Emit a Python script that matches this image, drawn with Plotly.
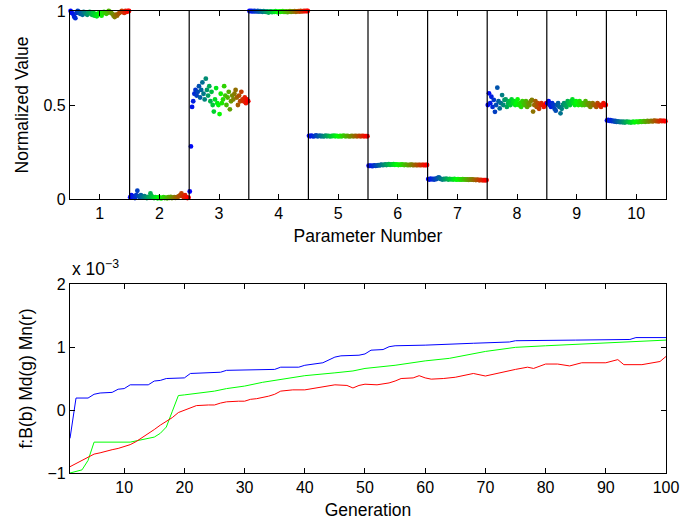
import plotly.graph_objects as go
from plotly.subplots import make_subplots

# ---------------- data: top panel (normalized parameter values, ordered by generation) -------------
param_numbers = [1, 2, 3, 4, 5, 6, 7, 8, 9, 10]

p1 = [1.0, 0.99, 0.985, 0.97, 0.962, 0.99, 1.0, 0.995, 0.985, 0.99,
      0.98, 0.995, 0.99, 0.985, 0.98, 0.99, 0.995, 0.985, 0.98, 0.99,
      0.975, 0.985, 0.972, 0.98, 0.99, 0.985, 0.975, 0.99, 0.995, 0.99,
      0.985, 0.99, 1.0, 0.995, 0.99, 0.985, 0.975, 0.968, 0.98, 0.975,
      0.985, 0.99, 0.995, 1.0, 0.995, 0.99, 1.0, 0.995, 1.0, 1.0]
p2 = [0.01, 0.02, 0.015, 0.01, 0.005, 0.02, 0.044, 0.015, 0.01, 0.02,
      0.012, 0.008, 0.015, 0.01, 0.005, 0.012, 0.008, 0.03, 0.015, 0.01,
      0.005, 0.01, 0.008, 0.004, 0.01, 0.006, 0.003, 0.008, 0.01, 0.005,
      0.008, 0.004, 0.01, 0.006, 0.012, 0.005, 0.008, 0.01, 0.006, 0.01,
      0.012, 0.015, 0.02, 0.03, 0.015, 0.01, 0.02, 0.01, 0.005, 0.008]
p3 = [0.04, 0.28, 0.49, 0.52, 0.56, 0.58, 0.55, 0.57, 0.60, 0.54,
      0.58, 0.62, 0.56, 0.53, 0.64, 0.58, 0.55, 0.60, 0.52, 0.57,
      0.50, 0.465, 0.53, 0.59, 0.51, 0.50, 0.452, 0.56, 0.51, 0.53,
      0.60, 0.55, 0.50, 0.54, 0.57, 0.477, 0.52, 0.55, 0.53, 0.56,
      0.58, 0.54, 0.50, 0.55, 0.52, 0.57, 0.53, 0.52, 0.54, 0.51,
      0.53, 0.52]
p4 = [1.0, 0.999, 1.0, 0.998, 1.0, 0.999, 0.998, 1.0, 0.997, 0.999,
      0.998, 0.996, 0.999, 0.997, 0.995, 0.998, 0.992, 0.996, 0.998, 0.994,
      0.997, 0.995, 0.999, 0.996, 0.993, 0.998, 0.996, 0.997, 0.999, 0.995,
      0.996, 0.998, 0.994, 0.997, 0.999, 0.996, 0.998, 0.997, 0.999, 0.996,
      0.998, 0.999, 0.997, 1.0, 0.998, 0.999, 1.0, 0.999, 1.0, 1.0]
p5 = [0.336, 0.334, 0.337, 0.335, 0.333, 0.336, 0.338, 0.334, 0.335, 0.337,
      0.334, 0.336, 0.333, 0.335, 0.337, 0.334, 0.336, 0.335, 0.333, 0.336,
      0.335, 0.337, 0.334, 0.336, 0.335, 0.333, 0.336, 0.334, 0.335, 0.337,
      0.335, 0.334, 0.336, 0.335, 0.333, 0.335, 0.336, 0.334, 0.335, 0.336,
      0.334, 0.335, 0.336, 0.334, 0.335, 0.336, 0.334, 0.335, 0.335, 0.334]
p6 = [0.177, 0.176, 0.178, 0.175, 0.177, 0.179, 0.176, 0.178, 0.180, 0.179,
      0.181, 0.183, 0.180, 0.182, 0.184, 0.181, 0.183, 0.185, 0.182, 0.184,
      0.183, 0.185, 0.182, 0.184, 0.183, 0.181, 0.183, 0.182, 0.184, 0.182,
      0.181, 0.183, 0.182, 0.180, 0.182, 0.181, 0.183, 0.181, 0.180, 0.182,
      0.181, 0.180, 0.182, 0.181, 0.180, 0.182, 0.181, 0.180, 0.181, 0.181]
p7 = [0.106, 0.104, 0.108, 0.105, 0.107, 0.103, 0.109, 0.106, 0.112, 0.115,
      0.108, 0.106, 0.104, 0.107, 0.105, 0.108, 0.106, 0.104, 0.107, 0.105,
      0.106, 0.104, 0.107, 0.105, 0.103, 0.106, 0.104, 0.105, 0.103, 0.106,
      0.104, 0.105, 0.103, 0.104, 0.102, 0.105, 0.103, 0.104, 0.102, 0.103,
      0.101, 0.103, 0.102, 0.100, 0.102, 0.101, 0.100, 0.101, 0.100, 0.101]
p8 = [0.50, 0.562, 0.51, 0.544, 0.49, 0.527, 0.464, 0.50, 0.592, 0.52,
      0.482, 0.51, 0.553, 0.50, 0.527, 0.53, 0.49, 0.51, 0.52, 0.50,
      0.53, 0.51, 0.52, 0.50, 0.51, 0.53, 0.50, 0.51, 0.49, 0.52,
      0.51, 0.50, 0.52, 0.49, 0.51, 0.50, 0.52, 0.527, 0.465, 0.50,
      0.52, 0.49, 0.51, 0.48, 0.50, 0.51, 0.50, 0.49, 0.50, 0.51]
p9 = [0.51, 0.52, 0.50, 0.49, 0.51, 0.50, 0.48, 0.47, 0.50, 0.51,
      0.49, 0.456, 0.48, 0.50, 0.51, 0.50, 0.49, 0.52, 0.51, 0.50,
      0.52, 0.53, 0.51, 0.50, 0.52, 0.51, 0.50, 0.52, 0.51, 0.50,
      0.51, 0.50, 0.52, 0.51, 0.50, 0.51, 0.49, 0.50, 0.51, 0.50,
      0.50, 0.49, 0.51, 0.50, 0.50, 0.49, 0.50, 0.51, 0.50, 0.50]
p10 = [0.418, 0.421, 0.416, 0.419, 0.414, 0.417, 0.412, 0.415, 0.410, 0.413,
       0.411, 0.409, 0.412, 0.408, 0.411, 0.407, 0.410, 0.412, 0.408, 0.410,
       0.407, 0.409, 0.411, 0.408, 0.410, 0.412, 0.409, 0.411, 0.413, 0.410,
       0.412, 0.414, 0.411, 0.413, 0.415, 0.412, 0.414, 0.416, 0.413, 0.415,
       0.417, 0.414, 0.416, 0.413, 0.415, 0.417, 0.414, 0.416, 0.415, 0.414]
param_values = [p1, p2, p3, p4, p5, p6, p7, p8, p9, p10]

# ---------------- data: bottom panel (fitness, units of 1e-3) -------------
best_gen = [1, 2, 4, 5, 6, 8, 9, 10, 11, 14, 15, 16, 17, 20, 21, 26, 27, 35, 36, 39,
            40, 42, 43, 45, 46, 49, 50, 51, 53, 54, 55, 60, 64, 68, 74, 75, 85, 94, 95, 100]
best_val = [-0.45, 0.19, 0.19, 0.25, 0.27, 0.28, 0.33, 0.34, 0.40, 0.40, 0.46, 0.47, 0.50, 0.51, 0.58, 0.60, 0.63, 0.645, 0.68, 0.68,
            0.71, 0.74, 0.75, 0.84, 0.86, 0.87, 0.89, 0.95, 0.96, 1.005, 1.02, 1.03, 1.05, 1.06, 1.08, 1.10, 1.11, 1.12, 1.15, 1.15]

median_gen = [1, 2, 3, 4, 5, 11, 12, 14, 15, 16, 17, 18, 19, 20, 22, 25, 27, 30, 33, 35,
              40, 45, 48, 50, 55, 60, 64, 70, 75, 80, 90, 100]
median_val = [-1.0, -0.98, -0.95, -0.80, -0.51, -0.51, -0.49, -0.46, -0.43, -0.37, -0.27, -0.02, 0.23, 0.24, 0.26, 0.30, 0.34, 0.38, 0.44, 0.47,
              0.545, 0.59, 0.62, 0.66, 0.71, 0.78, 0.82, 0.93, 0.995, 1.02, 1.06, 1.11]

mean_gen = [1, 2, 3, 5, 6, 7, 8, 9, 10, 11, 12, 13, 14, 15, 16, 17, 18, 19, 20, 21,
            22, 24, 25, 26, 27, 29, 30, 31, 32, 34, 35, 36, 38, 40, 42, 43, 45, 47, 48, 49,
            50, 52, 54, 55, 56, 58, 59, 60, 61, 63, 65, 68, 70, 75, 77, 78, 80, 82, 84, 86,
            90, 92, 93, 96, 98, 99, 100]
mean_val = [-0.90, -0.85, -0.79, -0.70, -0.68, -0.65, -0.63, -0.61, -0.58, -0.55, -0.50, -0.44, -0.37, -0.31, -0.24, -0.18, -0.12, -0.04, 0.0, 0.03,
            0.07, 0.08, 0.08, 0.11, 0.13, 0.14, 0.14, 0.17, 0.18, 0.22, 0.25, 0.30, 0.32, 0.32, 0.35, 0.36, 0.40, 0.39, 0.35, 0.39,
            0.41, 0.40, 0.43, 0.46, 0.50, 0.51, 0.545, 0.51, 0.49, 0.50, 0.52, 0.58, 0.54, 0.645, 0.68, 0.66, 0.73, 0.73, 0.70, 0.75,
            0.75, 0.80, 0.72, 0.72, 0.75, 0.77, 0.85]

gen_ticks = [10, 20, 30, 40, 50, 60, 70, 80, 90, 100]
fit_ticks = [-1, 0, 1, 2]
norm_ticks = [0, 0.5, 1]

# ---------------- figure -------------
FONT = "Liberation Sans, Arial, Helvetica, sans-serif"
TICK_SIZE = 16
TITLE_SIZE = 17.5
fig = make_subplots(rows=2, cols=1, vertical_spacing=0.0)

jet3 = [[0, "rgb(0,0,255)"], [0.5, "rgb(0,255,0)"], [1, "rgb(255,0,0)"]]
for p, vals in zip(param_numbers, param_values):
    n = len(vals)
    xs = [p - 0.5 + (k + 0.5) / n for k in range(n)]
    fig.add_trace(go.Scatter(
        x=xs, y=vals, mode="markers",
        marker=dict(size=4.8, color=list(range(n)), colorscale=jet3, cmin=0, cmax=n - 1,
                    line=dict(width=0)),
        showlegend=False, hoverinfo="skip", cliponaxis=False), row=1, col=1)

for p in param_numbers[:-1]:
    fig.add_shape(type="line", x0=p + 0.5, x1=p + 0.5, y0=0, y1=1,
                  xref="x", yref="y domain", line=dict(color="black", width=1.2))

fig.add_trace(go.Scatter(x=best_gen, y=best_val, mode="lines",
                         line=dict(color="rgb(0,0,255)", width=1), showlegend=False), row=2, col=1)
fig.add_trace(go.Scatter(x=median_gen, y=median_val, mode="lines",
                         line=dict(color="rgb(0,255,0)", width=1), showlegend=False), row=2, col=1)
fig.add_trace(go.Scatter(x=mean_gen, y=mean_val, mode="lines",
                         line=dict(color="rgb(255,0,0)", width=1), showlegend=False), row=2, col=1)

axis_common = dict(showline=True, linecolor="black", linewidth=1.2, mirror="ticks",
                   ticks="inside", ticklen=5, tickcolor="black", showgrid=False, zeroline=False,
                   automargin=False,
                   tickfont=dict(family=FONT, size=TICK_SIZE, color="black"))

fig.update_xaxes(range=[0.5, 10.5], tickvals=param_numbers, domain=[0, 1],
                 title=dict(text="Parameter Number", font=dict(family=FONT, size=TITLE_SIZE, color="black"), standoff=8),
                 row=1, col=1, **axis_common)
fig.update_yaxes(range=[0, 1], tickvals=norm_ticks, ticktext=["0", "0.5", "1"], domain=[0.593, 1.0],
                 title=dict(text="Normalized Value", font=dict(family=FONT, size=TITLE_SIZE, color="black"), standoff=10),
                 row=1, col=1, **axis_common)
fig.update_xaxes(range=[1, 100], tickvals=gen_ticks, domain=[0, 1],
                 title=dict(text="Generation", font=dict(family=FONT, size=TITLE_SIZE, color="black"), standoff=8),
                 row=2, col=1, **axis_common)
fig.update_yaxes(range=[-1, 2], tickvals=fit_ticks, ticktext=["\u22121", "0", "1", "2"], domain=[0.0, 0.409],
                 title=dict(text="f:B(b) Md(g) Mn(r)", font=dict(family=FONT, size=TITLE_SIZE, color="black"), standoff=10),
                 row=2, col=1, **axis_common)

fig.add_annotation(text="x 10<sup>\u22123</sup>", xref="paper", yref="paper", x=0.0, y=0.409,
                   xanchor="left", yanchor="bottom", yshift=3, showarrow=False,
                   font=dict(family=FONT, size=TITLE_SIZE, color="black"))

fig.update_layout(width=681, height=525, margin=dict(l=70, r=15, t=11, b=52),
                  paper_bgcolor="white", plot_bgcolor="white")

fig.write_html("out.html")
